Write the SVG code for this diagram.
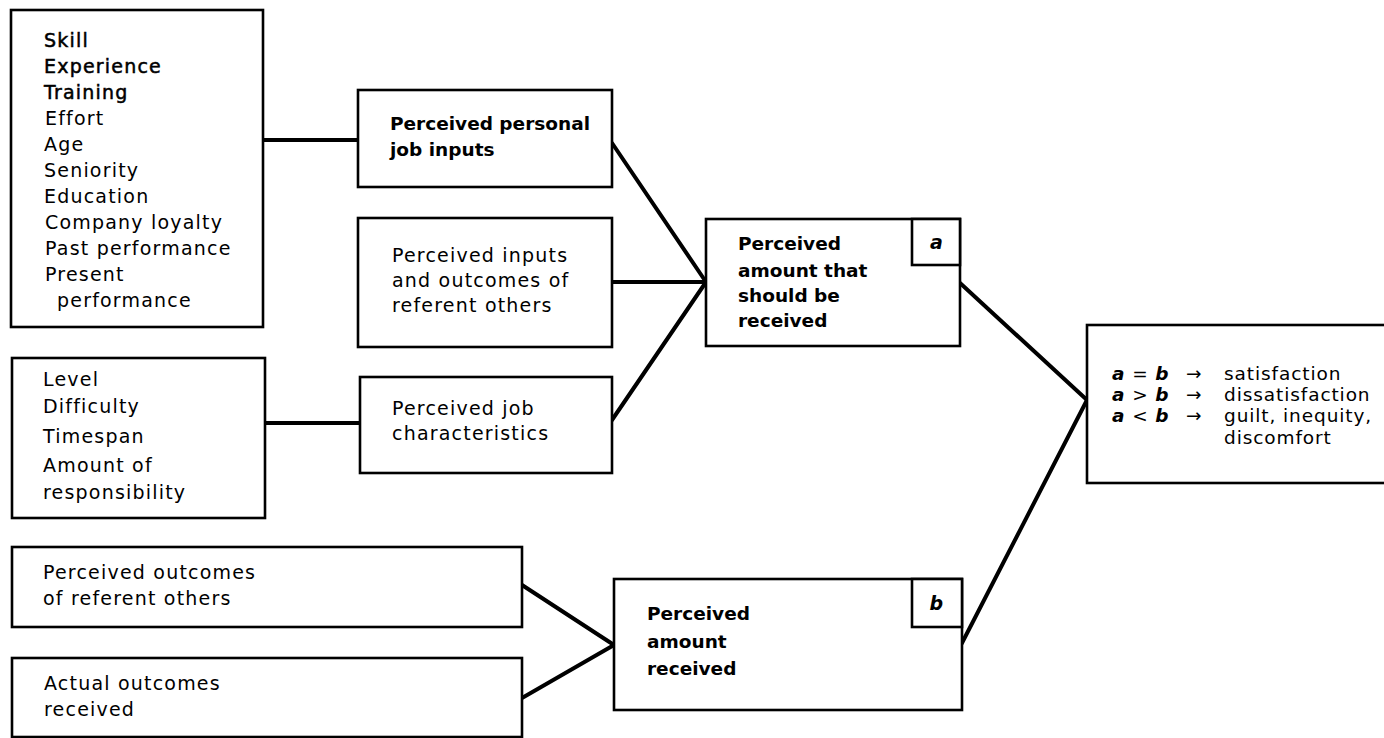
<svg xmlns="http://www.w3.org/2000/svg" width="1384" height="738" viewBox="0 0 1384 738">
<style>
.box{fill:#fff;stroke:#000;stroke-width:2.6}
.con{stroke:#000;stroke-width:4;fill:none;stroke-linecap:round}
text{font-family:"DejaVu Sans","Liberation Sans",sans-serif;font-size:19px;letter-spacing:1.2px;fill:#000}
.b{font-weight:bold;font-size:18.5px;letter-spacing:0}
.sb{stroke:#000;stroke-width:0.5}
.m{font-style:italic;font-weight:bold}
.r{font-size:18.5px;letter-spacing:0.9px}
</style>
<rect width="1384" height="738" fill="#fff"/>
<g id="connectors">
<line class="con" x1="263" y1="140" x2="358" y2="140"/>
<line class="con" x1="265" y1="423" x2="360" y2="423"/>
<line class="con" x1="612" y1="143" x2="706" y2="282"/>
<line class="con" x1="612" y1="282" x2="706" y2="282"/>
<line class="con" x1="612" y1="420" x2="706" y2="282"/>
<line class="con" x1="960" y1="283" x2="1087" y2="400"/>
<line class="con" x1="962" y1="643" x2="1087" y2="400"/>
<line class="con" x1="522" y1="585" x2="614" y2="645"/>
<line class="con" x1="522" y1="698" x2="614" y2="645"/>
</g>
<g id="inputs-list">
<rect class="box" x="11" y="10" width="252" height="317"/>
<text class="sb" x="44" y="47">Skill</text>
<text class="sb" x="44" y="73">Experience</text>
<text class="sb" x="44" y="99">Training</text>
<text x="45" y="125">Effort</text>
<text x="44" y="151">Age</text>
<text x="44" y="177">Seniority</text>
<text x="44" y="203">Education</text>
<text x="45" y="229">Company loyalty</text>
<text x="45" y="255">Past performance</text>
<text x="45" y="281">Present</text>
<text x="57" y="307">performance</text>
</g>
<g id="job-list">
<rect class="box" x="12" y="358" width="253" height="160"/>
<text x="43" y="386">Level</text>
<text x="43" y="413">Difficulty</text>
<text x="43" y="443">Timespan</text>
<text x="43" y="472">Amount of</text>
<text x="43" y="499">responsibility</text>
</g>
<g id="personal-inputs">
<rect class="box" x="358" y="90" width="254" height="97"/>
<text class="b" x="390" y="130">Perceived personal</text>
<text class="b" x="390" y="156">job inputs</text>
</g>
<g id="referent-io">
<rect class="box" x="358" y="218" width="254" height="129"/>
<text x="392" y="262">Perceived inputs</text>
<text x="392" y="287">and outcomes of</text>
<text x="392" y="312">referent others</text>
</g>
<g id="job-char">
<rect class="box" x="360" y="377" width="252" height="96"/>
<text x="392" y="415">Perceived job</text>
<text x="392" y="440">characteristics</text>
</g>
<g id="should-receive">
<rect class="box" x="706" y="219" width="254" height="127"/>
<rect class="box" x="912" y="219" width="48" height="46"/>
<text class="m" x="937" y="249" text-anchor="middle" font-size="17">a</text>
<text class="b" x="738" y="250">Perceived</text>
<text class="b" x="738" y="277">amount that</text>
<text class="b" x="738" y="302">should be</text>
<text class="b" x="738" y="327">received</text>
</g>
<g id="referent-outcomes">
<rect class="box" x="12" y="547" width="510" height="80"/>
<text x="43" y="579">Perceived outcomes</text>
<text x="43" y="605">of referent others</text>
</g>
<g id="actual-outcomes">
<rect class="box" x="12" y="658" width="510" height="79"/>
<text x="44" y="690">Actual outcomes</text>
<text x="44" y="716">received</text>
</g>
<g id="received">
<rect class="box" x="614" y="579" width="348" height="131"/>
<rect class="box" x="912" y="579" width="50" height="48"/>
<text class="m" x="937" y="610" text-anchor="middle" font-size="17">b</text>
<text class="b" x="647" y="620">Perceived</text>
<text class="b" x="647" y="648">amount</text>
<text class="b" x="647" y="675">received</text>
</g>
<g id="outcome">
<rect class="box" x="1087" y="325" width="310" height="158"/>
<text class="r" x="1112" y="380"><tspan class="m">a</tspan> = <tspan class="m">b</tspan></text>
<text class="r" x="1186" y="380">→</text>
<text class="r" x="1224" y="380">satisfaction</text>
<text class="r" x="1112" y="401"><tspan class="m">a</tspan> &gt; <tspan class="m">b</tspan></text>
<text class="r" x="1186" y="401">→</text>
<text class="r" x="1224" y="401">dissatisfaction</text>
<text class="r" x="1112" y="422"><tspan class="m">a</tspan> &lt; <tspan class="m">b</tspan></text>
<text class="r" x="1186" y="422">→</text>
<text class="r" x="1224" y="422">guilt, inequity,</text>
<text class="r" x="1224" y="444">discomfort</text>
</g>
</svg>
